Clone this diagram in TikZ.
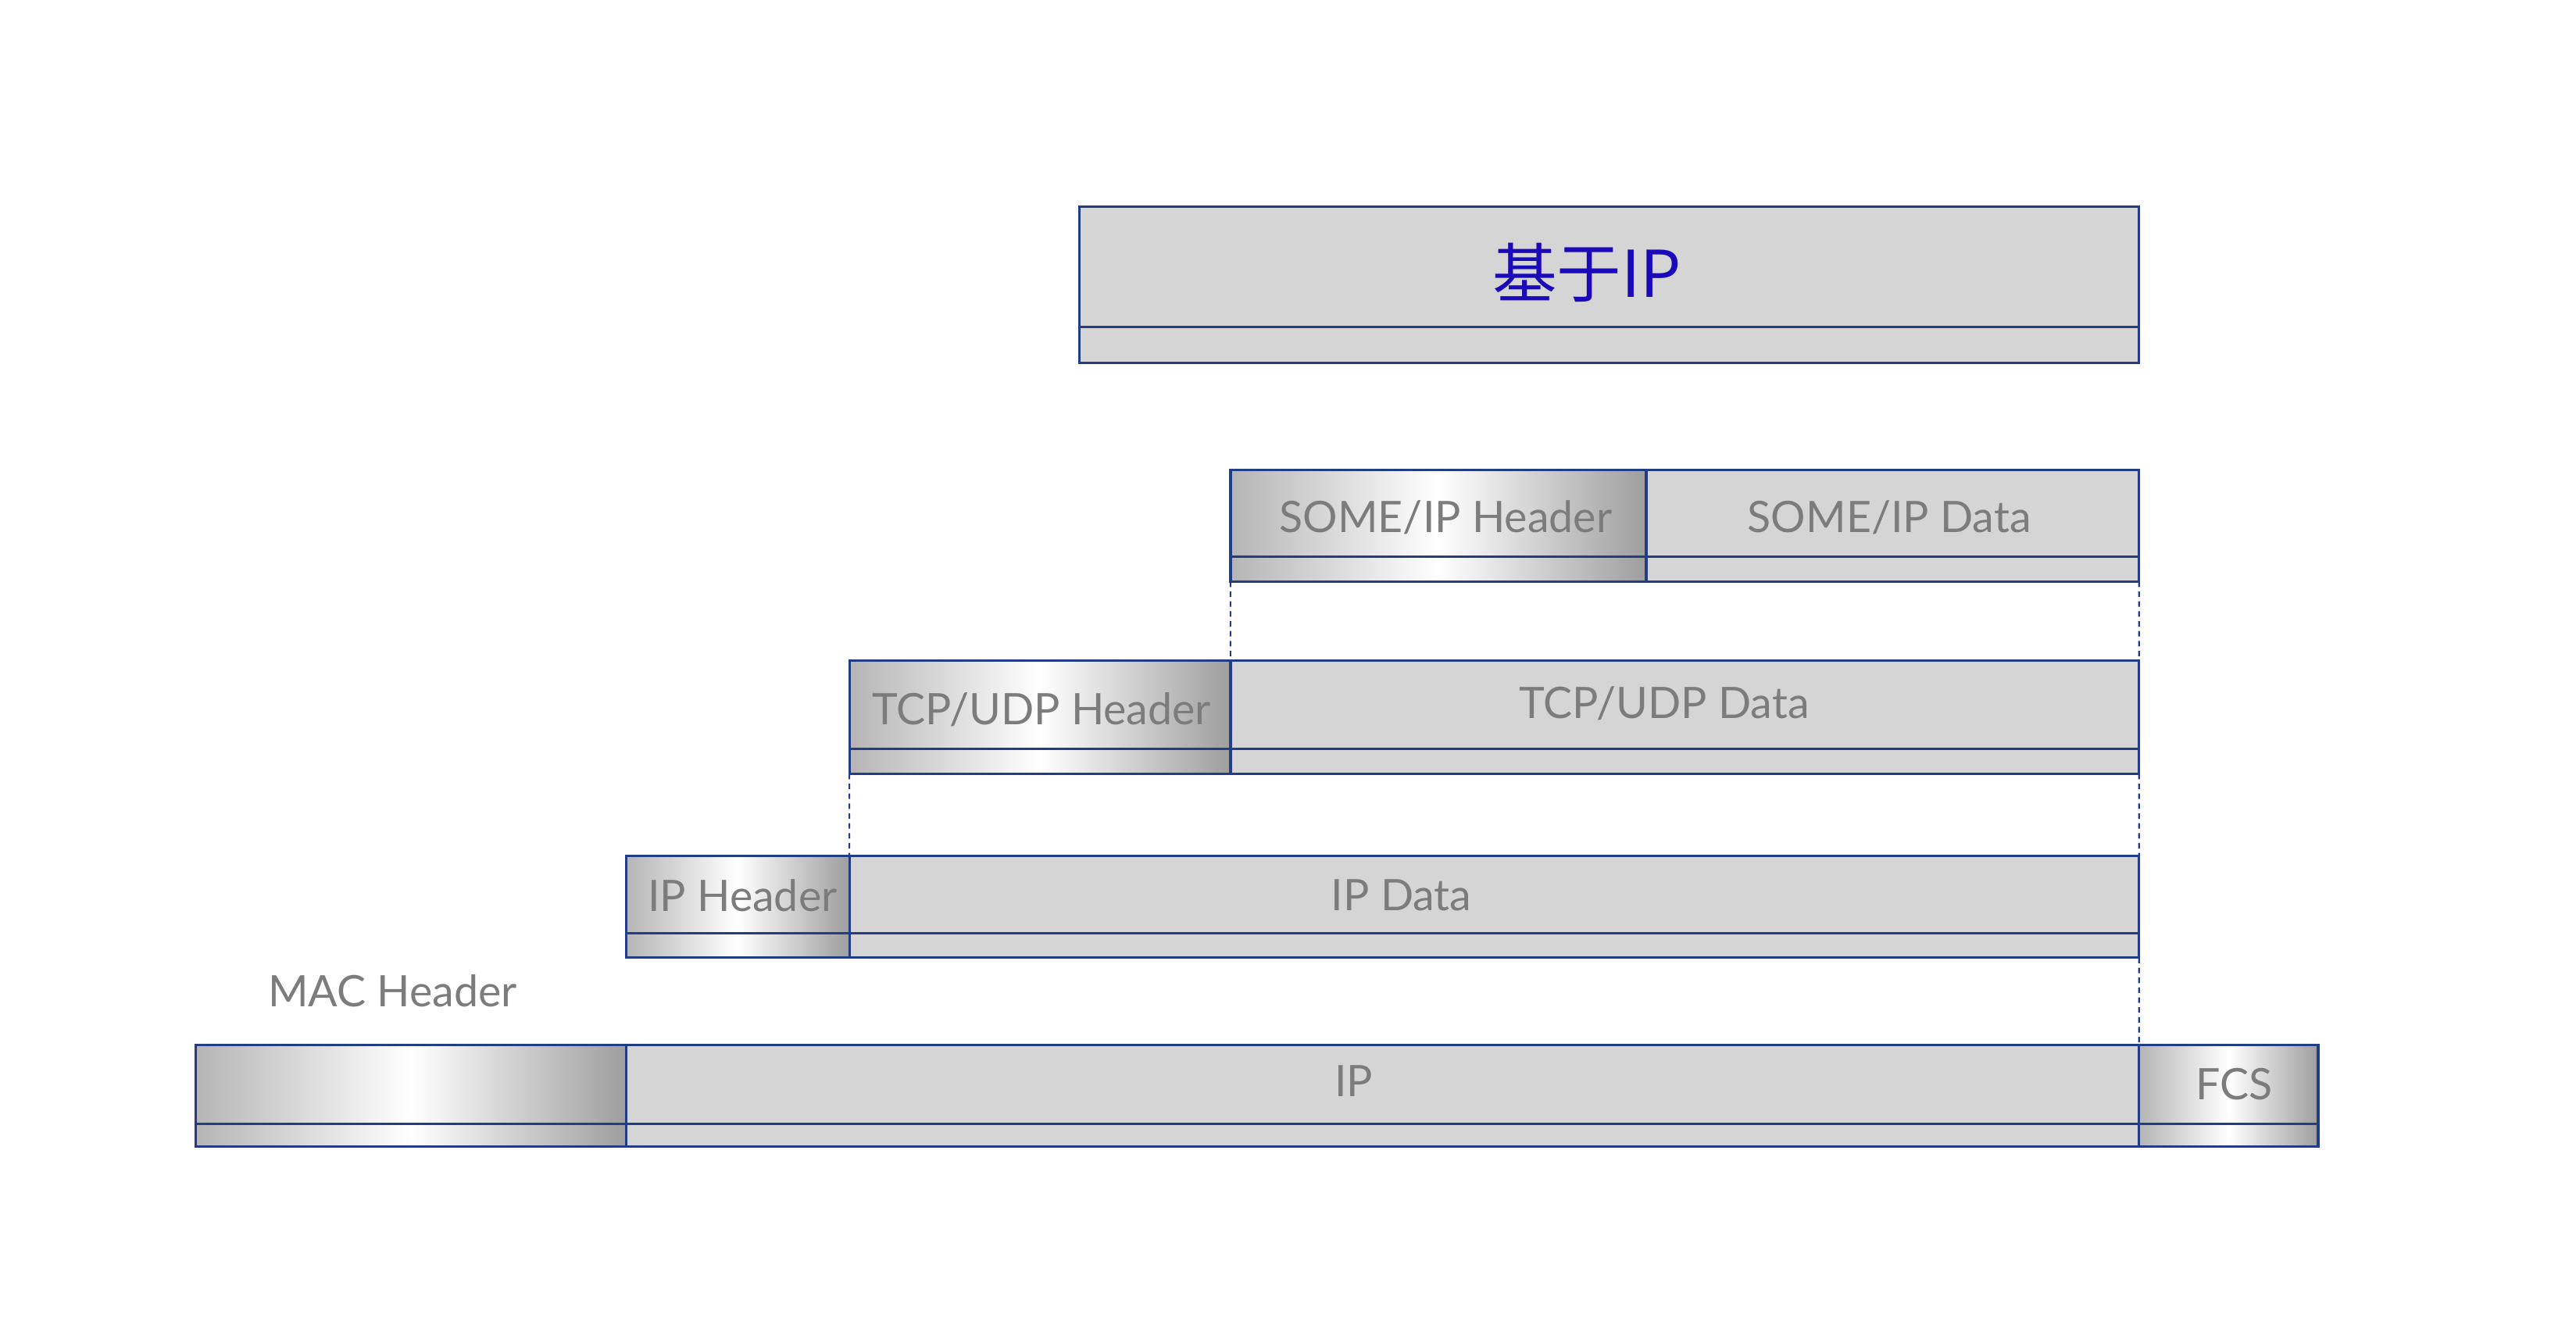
\documentclass[tikz,border=0pt]{standalone}
\usepackage{fontspec}
\setmainfont{Lato}
\newfontfamily\cjk{Noto Sans CJK SC}
\usetikzlibrary{positioning}

\definecolor{boxblue}{RGB}{34,60,134}
\definecolor{cellgray}{RGB}{213,213,213}
\definecolor{labelgray}{RGB}{124,124,124}
\definecolor{titleblue}{RGB}{26,10,186}

\begin{document}
\begin{tikzpicture}[
  cell/.style={
    draw=boxblue, line width=0.9pt, rectangle,
    inner sep=0pt, outer sep=0pt, anchor=north west
  },
  dat/.style={cell, fill=cellgray},
  hdr/.style={cell, left color=gray!58, right color=gray!76, middle color=white},
  txt/.style={font=\fontsize{15.8}{18}\selectfont, text=labelgray, inner sep=0pt},
  link/.style={draw=boxblue, line width=0.6pt, dash pattern=on 2pt off 1.6pt}
]
\useasboundingbox (0,0) rectangle (32.97,-17.09);

% top box
\node[dat, minimum width=13.562cm, minimum height=1.535cm] (top) at (13.815,-2.649) {};
\node[dat, minimum width=13.562cm, minimum height=0.463cm, below=0pt of top] (topb) {};

% SOME/IP
\node[hdr, minimum width=5.320cm, minimum height=1.114cm] (sh) at (15.749,-6.014) {};
\node[hdr, minimum width=5.320cm, minimum height=0.316cm, below=0pt of sh] (shb) {};
\node[dat, minimum width=6.308cm, minimum height=1.114cm, right=0pt of sh] (sd) {};
\node[dat, minimum width=6.308cm, minimum height=0.316cm, below=0pt of sd] (sdb) {};

% TCP/UDP
\node[hdr, minimum width=4.878cm, minimum height=1.135cm] (th) at (10.871,-8.453) {};
\node[hdr, minimum width=4.878cm, minimum height=0.316cm, below=0pt of th] (thb) {};
\node[dat, minimum width=11.628cm, minimum height=1.135cm, right=0pt of th] (td) {};
\node[dat, minimum width=11.628cm, minimum height=0.316cm, below=0pt of td] (tdb) {};

% IP
\node[hdr, minimum width=2.860cm, minimum height=0.988cm] (ih) at (8.011,-10.955) {};
\node[hdr, minimum width=2.860cm, minimum height=0.316cm, below=0pt of ih] (ihb) {};
\node[dat, minimum width=16.506cm, minimum height=0.988cm, right=0pt of ih] (id) {};
\node[dat, minimum width=16.506cm, minimum height=0.316cm, below=0pt of id] (idb) {};

% MAC frame
\node[hdr, minimum width=5.509cm, minimum height=1.009cm] (mh) at (2.502,-13.373) {};
\node[hdr, minimum width=5.509cm, minimum height=0.295cm, below=0pt of mh] (mhb) {};
\node[dat, minimum width=19.366cm, minimum height=1.009cm, right=0pt of mh] (mi) {};
\node[dat, minimum width=19.366cm, minimum height=0.295cm, below=0pt of mi] (mib) {};
\node[hdr, minimum width=2.292cm, minimum height=1.009cm, right=0pt of mi] (fcs) {};
\node[hdr, minimum width=2.292cm, minimum height=0.295cm, below=0pt of fcs] (fcsb) {};

% labels
\node[font=\cjk\fontsize{23.5}{26}\selectfont, text=titleblue, inner sep=0pt] (ttl) at (20.312,-3.490) {基于IP};
\node[txt] (shl) at (18.504,-6.624) {SOME/IP Header};
\node[txt] (sdl) at (24.181,-6.624) {SOME/IP Data};
\node[txt] (thl) at (13.331,-9.084) {TCP/UDP Header};
\node[txt] (tdl) at (21.300,-9.000) {TCP/UDP Data};
\node[txt] (ihl) at (9.504,-11.460) {IP Header};
\node[txt] (idl) at (17.936,-11.460) {IP Data};
\node[txt] (mhl) at (5.025,-12.679) {MAC Header};
\node[txt] (mil) at (17.326,-13.836) {IP};
\node[txt] (fcsl) at (28.597,-13.878) {FCS};

% dashed guides
\draw[link] (shb.south west) -- (td.north west);
\draw[link] (sdb.south east) -- (td.north east);
\draw[link] (thb.south west) -- (id.north west);
\draw[link] (tdb.south east) -- (id.north east);
\draw[link] (idb.south east) -- (mi.north east);

\end{tikzpicture}
\end{document}
